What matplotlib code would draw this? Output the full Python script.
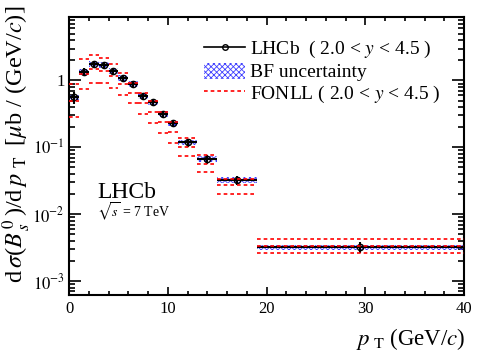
import numpy as np
import matplotlib
matplotlib.use("Agg")
import matplotlib.pyplot as plt
from matplotlib.lines import Line2D
from matplotlib.patches import Patch
from matplotlib.ticker import FixedLocator, LogLocator, NullFormatter, FuncFormatter, MultipleLocator

plt.rcParams['font.family'] = ['Liberation Serif', 'DejaVu Serif']
plt.rcParams['mathtext.fontset'] = 'stix'
plt.rcParams['hatch.linewidth'] = 0.6

# ---- data ----
pt_lo = [0, 1, 2, 3, 4, 5, 6, 7, 8, 9, 10, 11, 13, 15, 19]
pt_hi = [1, 2, 3, 4, 5, 6, 7, 8, 9, 10, 11, 13, 15, 19, 40]
lhcb = [0.56, 1.35, 1.75, 1.72, 1.39, 1.08, 0.88, 0.59, 0.47, 0.316, 0.229, 0.119, 0.067, 0.0326, 0.0032]
lhcb_err = [0.11, 0.17, 0.2, 0.2, 0.16, 0.12, 0.1, 0.07, 0.055, 0.038, 0.03, 0.016, 0.01, 0.005, 0.0006]
bf_rel = [0.10] * 15
fonll_hi = [0.88, 2.09, 2.4, 2.19, 1.76, 1.31, 0.91, 0.64, 0.49, 0.34, 0.243, 0.137, 0.077, 0.034, 0.0043]
fonll_c = [0.50, 1.25, 1.50, 1.40, 1.15, 0.90, 0.65, 0.46, 0.34, 0.24, 0.17, 0.10, 0.057, 0.027, 0.0034]
fonll_lo = [0.28, 0.74, 0.93, 0.91, 0.78, 0.61, 0.457, 0.32, 0.229, 0.163, 0.118, 0.074, 0.043, 0.020, 0.0026]

lo = np.array(pt_lo, float)
hi = np.array(pt_hi, float)
xc = 0.5 * (lo + hi)
y = np.array(lhcb)
bf = np.array(bf_rel)

fig = plt.figure(figsize=(4.91, 3.52), dpi=100)
ax = fig.add_axes([69/491, 1-295/352, (464-69)/491, (295-17)/352])

# BF uncertainty boxes
ax.bar(lo, y*bf*2, bottom=y*(1-bf), width=hi-lo, align='edge', fill=False,
       hatch='xxxxxx', edgecolor=(0.25, 0.25, 1.0), linewidth=0, zorder=2)

# data
ax.errorbar(xc, y, xerr=[xc-lo, hi-xc], yerr=lhcb_err, fmt='o', color='black',
            ms=4.5, mfc='none', mec='black', mew=1.0, elinewidth=1.5, capsize=0, zorder=3)

# FONLL
dash = (0, (2.2, 1.8))
for arr in (fonll_hi, fonll_c, fonll_lo):
    ax.hlines(arr, lo, hi, colors='red', linestyles=dash, linewidth=1.2, zorder=4)

ax.set_xlim(0, 40)
ax.set_yscale('log')
ax.set_ylim(6.2e-4, 8.9)

ax.xaxis.set_major_locator(FixedLocator([0, 10, 20, 30, 40]))
ax.xaxis.set_minor_locator(MultipleLocator(2))
ax.yaxis.set_major_locator(FixedLocator([1e-3, 1e-2, 1e-1, 1]))
ax.yaxis.set_minor_locator(LogLocator(base=10, subs=np.arange(2, 10)))
ax.yaxis.set_minor_formatter(NullFormatter())

def yfmt(v, pos):
    e = int(round(np.log10(v)))
    if e == 0:
        return '1'
    return r'$10^{%d}$' % e
ax.yaxis.set_major_formatter(FuncFormatter(yfmt))

ax.tick_params(which='both', direction='in', top=True, right=True, width=1.2)
ax.tick_params(axis='x', which='major', length=6, labelsize=12, pad=4)
ax.tick_params(axis='x', which='minor', length=3)
ax.tick_params(axis='y', which='major', length=8.5, labelsize=12, pad=3)
ax.tick_params(axis='y', which='minor', length=4.5)
for s in ax.spines.values():
    s.set_linewidth(1.5)

ax.set_xlabel(r'$p_{\,\,\rm T}$ (GeV/$c$)', fontsize=16.5, loc='right', labelpad=0)
ax.xaxis.set_label_coords(1.005, -0.112)
ax.set_ylabel(r'd$\,\sigma$($B^{\,0}_{\,s}\,$)/d$\,p_{\,\,\,\rm T}\;$ [$\mu$b / (GeV/$c$)]',
              fontsize=17.5, loc='top')
ax.yaxis.set_label_coords(-0.09, 1.04)

ax.text(0.072, 0.35, 'LHCb', transform=ax.transAxes, fontsize=17)
ax.text(0.072, 0.278, r'$\sqrt{s}$ = 7 TeV', transform=ax.transAxes, fontsize=10)

handles = [
    Line2D([], [], color='black', lw=1.2, marker='o', ms=4, mfc='none', mec='black'),
    Patch(facecolor='none', edgecolor=(0.25, 0.25, 1.0), hatch='xxxxxx', linewidth=0),
    Line2D([], [], color='red', lw=1.2, linestyle=dash),
]
labels = [r'LHCb  ( 2.0 < $y$ < 4.5 )', 'BF uncertainty', r'FONLL ( 2.0 < $y$ < 4.5 )']
ax.legend(handles, labels, loc='upper left', bbox_to_anchor=(0.342, 0.92), frameon=False,
          fontsize=14, handlelength=2.1, handletextpad=0.25, labelspacing=0.12,
          borderaxespad=0, borderpad=0, handleheight=0.9)

fig.savefig('out.png', dpi=100)
